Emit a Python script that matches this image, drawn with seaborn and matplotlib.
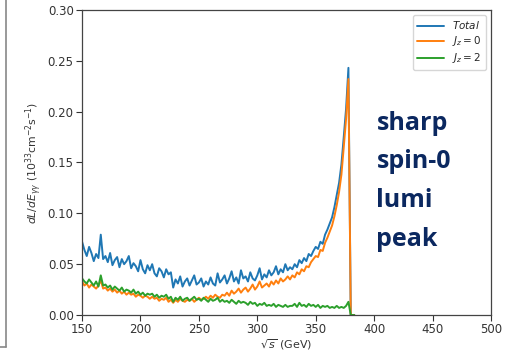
import numpy as np
import pandas as pd
import matplotlib
matplotlib.use("Agg")
import matplotlib.pyplot as plt
import seaborn as sns
from matplotlib.lines import Line2D

# sqrt(s) bins in GeV (2 GeV steps up to the edge, then zero)
energy = list(np.arange(150, 380, 2)) + [380, 383]

total = [
    0.072, 0.064, 0.058, 0.067, 0.061, 0.053, 0.060, 0.056, 0.079, 0.055,
    0.058, 0.052, 0.061, 0.049, 0.054, 0.057, 0.047, 0.055, 0.050, 0.053,
    0.058, 0.046, 0.051, 0.048, 0.043, 0.054, 0.045, 0.041, 0.049, 0.044,
    0.050, 0.041, 0.038, 0.046, 0.043, 0.037, 0.045, 0.040, 0.042, 0.027,
    0.035, 0.031, 0.038, 0.028, 0.033, 0.036, 0.029, 0.034, 0.039, 0.030,
    0.032, 0.036, 0.028, 0.033, 0.030, 0.037, 0.031, 0.029, 0.041, 0.032,
    0.035, 0.039, 0.031, 0.036, 0.043, 0.033, 0.037, 0.031, 0.044, 0.036,
    0.038, 0.033, 0.042, 0.036, 0.034, 0.039, 0.046, 0.035, 0.040, 0.037,
    0.044, 0.039, 0.042, 0.048, 0.040, 0.045, 0.042, 0.050, 0.044, 0.047,
    0.045, 0.050, 0.047, 0.054, 0.051, 0.056, 0.053, 0.060, 0.058, 0.063,
    0.067, 0.065, 0.072, 0.070, 0.079, 0.084, 0.090, 0.096, 0.106, 0.118,
    0.130, 0.148, 0.175, 0.203, 0.243,
    0.0, 0.0,
]

jz0 = [
    0.033, 0.029, 0.031, 0.027, 0.030, 0.028, 0.026, 0.029, 0.034, 0.026,
    0.027, 0.024, 0.026, 0.023, 0.025, 0.022, 0.024, 0.021, 0.023, 0.020,
    0.022, 0.020, 0.021, 0.018, 0.020, 0.019, 0.017, 0.019, 0.018, 0.016,
    0.018, 0.016, 0.017, 0.014, 0.016, 0.015, 0.017, 0.013, 0.015, 0.012,
    0.015, 0.013, 0.016, 0.014, 0.013, 0.015, 0.014, 0.016, 0.013, 0.015,
    0.017, 0.015, 0.016, 0.018, 0.016, 0.019, 0.017, 0.020, 0.018, 0.017,
    0.020, 0.019, 0.022, 0.019, 0.024, 0.021, 0.023, 0.026, 0.022, 0.025,
    0.027, 0.023, 0.026, 0.030, 0.025, 0.028, 0.033, 0.027, 0.029, 0.031,
    0.028, 0.033, 0.030, 0.034, 0.031, 0.036, 0.033, 0.035, 0.038, 0.035,
    0.039, 0.037, 0.042, 0.040, 0.045, 0.043, 0.048, 0.047, 0.052, 0.055,
    0.058, 0.057, 0.064, 0.063, 0.071, 0.076, 0.082, 0.088, 0.097, 0.108,
    0.121, 0.138, 0.165, 0.193, 0.232,
    0.0, 0.0,
]

jz2 = [
    0.036, 0.033, 0.031, 0.035, 0.032, 0.029, 0.033, 0.028, 0.039, 0.029,
    0.030, 0.027, 0.029, 0.025, 0.028, 0.026, 0.024, 0.027, 0.023, 0.025,
    0.024, 0.022, 0.025, 0.021, 0.023, 0.020, 0.022, 0.019, 0.021, 0.020,
    0.021, 0.018, 0.020, 0.017, 0.019, 0.018, 0.020, 0.016, 0.018, 0.013,
    0.017, 0.015, 0.018, 0.014, 0.016, 0.017, 0.014, 0.016, 0.018, 0.015,
    0.016, 0.014, 0.017, 0.015, 0.013, 0.016, 0.014, 0.015, 0.017, 0.013,
    0.015, 0.013, 0.014, 0.012, 0.015, 0.013, 0.011, 0.014, 0.012, 0.013,
    0.012, 0.010, 0.013, 0.011, 0.012, 0.009, 0.011, 0.010, 0.012, 0.009,
    0.010, 0.009, 0.011, 0.008, 0.010, 0.009, 0.008, 0.010, 0.008, 0.009,
    0.009, 0.011, 0.008, 0.012, 0.009, 0.010, 0.008, 0.011, 0.009, 0.010,
    0.008, 0.010, 0.007, 0.009, 0.008, 0.009, 0.007, 0.008, 0.007, 0.009,
    0.007, 0.008, 0.007, 0.009, 0.013,
    0.0, 0.0,
]

labels = ["$Total$", "$J_z=0$", "$J_z=2$"]
colors = ["#1f77b4", "#ff7f0e", "#2ca02c"]

df = pd.concat([
    pd.DataFrame({"energy": energy, "lumi": vals, "series": lab})
    for vals, lab in zip([total, jz0, jz2], labels)
])

sns.set_style("ticks")
plt.rcParams["font.family"] = ["DejaVu Sans"]

fig = plt.figure(figsize=(5.13, 3.52), dpi=100)
ax = fig.add_axes([0.160, 0.105, 0.797, 0.867])

sns.lineplot(data=df, x="energy", y="lumi", hue="series", hue_order=labels,
             palette=colors, linewidth=1.4, ax=ax, estimator=None)

ax.set_xlim(150, 500)
ax.set_ylim(0, 0.30)
ax.set_xticks([150, 200, 250, 300, 350, 400, 450, 500])
ax.set_yticks([0.0, 0.05, 0.10, 0.15, 0.20, 0.25, 0.30])
ax.set_yticklabels(["0.00", "0.05", "0.10", "0.15", "0.20", "0.25", "0.30"])
ax.tick_params(labelsize=8.5, colors="#333333", length=4, pad=2)
for sp in ax.spines.values():
    sp.set_visible(True)
    sp.set_color("#444444")
    sp.set_linewidth(0.9)

ax.set_xlabel(r"$\sqrt{s}$ (GeV)", fontsize=8, color="#333333", labelpad=1)
ax.set_ylabel(r"$dL/dE_{\gamma\gamma}$ ($10^{33}$cm$^{-2}$s$^{-1}$)",
              fontsize=7.8, color="#333333", labelpad=3)

handles, labs = ax.get_legend_handles_labels()
ax.legend(handles, labs, loc="upper right", fontsize=7.5, frameon=True,
          framealpha=0.8, edgecolor="#cccccc", handlelength=2.6,
          borderpad=0.4, labelspacing=0.3)

ax.text(402, 0.201, "sharp\nspin-0\nlumi\npeak", color="#0b2860",
        fontsize=18, fontweight="bold", family="Open Sans",
        va="top", ha="left", linespacing=1.72)

# edge of the neighbouring box on the left
fig.add_artist(Line2D([6 / 513, 6 / 513], [1.0, 1 - 347 / 352],
                      transform=fig.transFigure, color="#888888", lw=1.2))
fig.add_artist(Line2D([0, 6 / 513], [1 - 347 / 352, 1 - 347 / 352],
                      transform=fig.transFigure, color="#888888", lw=1.2))

fig.savefig("out.png", dpi=100)
